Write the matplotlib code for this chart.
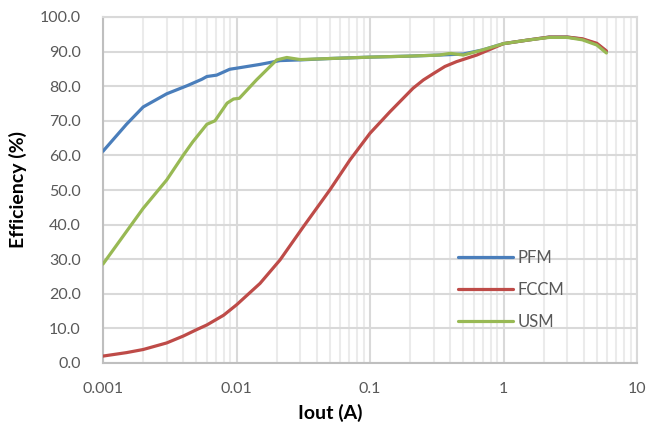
import matplotlib
matplotlib.use("Agg")
import matplotlib.pyplot as plt
from matplotlib.ticker import FixedLocator, NullFormatter

plt.rcParams['font.family'] = ['Lato', 'DejaVu Sans']

# 读取自图中的数据
iout_pfm = [0.001, 0.0015, 0.002, 0.003, 0.0043, 0.0055, 0.006, 0.0071, 0.0089, 0.01,
            0.015, 0.0212, 0.03, 0.05, 0.1, 0.2, 0.33, 0.5, 0.7, 1.0, 1.5, 2.2, 3.0, 3.9, 5.0, 5.9]
eff_pfm = [61.2, 69.0, 74.0, 77.8, 80.2, 82.0, 82.8, 83.2, 84.9, 85.2,
           86.3, 87.4, 87.6, 88.0, 88.4, 88.7, 89.0, 89.3, 90.5, 92.3, 93.3, 94.2, 94.2, 93.6, 92.2, 90.0]

iout_fccm = [0.001, 0.0015, 0.002, 0.003, 0.004, 0.005, 0.006, 0.008, 0.01, 0.015, 0.0212,
             0.0317, 0.05, 0.0708, 0.1, 0.141, 0.21, 0.251, 0.3, 0.364, 0.445, 0.63, 1.0,
             1.5, 2.2, 3.0, 3.9, 5.0, 5.9]
eff_fccm = [2.0, 3.0, 3.9, 5.8, 7.8, 9.6, 11.0, 13.8, 16.8, 23.0, 29.8,
            39.4, 50.0, 58.7, 66.4, 72.6, 79.4, 81.8, 83.7, 85.7, 87.1, 89.0, 92.3,
            93.3, 94.2, 94.2, 93.7, 92.4, 90.2]

iout_usm = [0.001, 0.002, 0.003, 0.004, 0.0047, 0.006, 0.0069, 0.0085, 0.0095,
            0.0105, 0.0141, 0.02, 0.0238, 0.03, 0.05, 0.1, 0.2, 0.33, 0.4, 0.5, 0.7,
            1.0, 1.5, 2.2, 3.0, 3.9, 5.0, 5.9]
eff_usm = [28.6, 44.7, 52.9, 60.1, 63.9, 69.0, 70.0, 75.1, 76.3,
           76.5, 81.8, 87.6, 88.3, 87.7, 88.0, 88.4, 88.7, 89.0, 89.5, 89.0, 90.5,
           92.3, 93.3, 94.1, 94.1, 93.4, 91.9, 89.6]

series_names = ['PFM', 'FCCM', 'USM']
series_colors = ['#4A7EBB', '#BE4B48', '#98B954']

x_ticks = [0.001, 0.01, 0.1, 1, 10]
x_tick_labels = ['0.001', '0.01', '0.1', '1', '10']
y_ticks = [0, 10, 20, 30, 40, 50, 60, 70, 80, 90, 100]

fig = plt.figure(figsize=(6.49, 4.29), dpi=100)
ax = fig.add_axes([103 / 649, 1 - 363 / 429, 534 / 649, 346 / 429])

for xs, ys, name, c in zip([iout_pfm, iout_fccm, iout_usm], [eff_pfm, eff_fccm, eff_usm],
                           series_names, series_colors):
    ax.plot(xs, ys, color=c, lw=2.3, label=name, solid_capstyle='round',
            solid_joinstyle='round', zorder=3)

ax.set_xscale('log')
ax.set_xlim(0.001, 10)
ax.set_ylim(0, 100)
ax.set_xticks(x_ticks)
ax.set_xticklabels(x_tick_labels)
ax.xaxis.set_minor_locator(FixedLocator([m * 10.0 ** e for e in range(-3, 1) for m in range(2, 10)]))
ax.xaxis.set_minor_formatter(NullFormatter())
ax.set_yticks(y_ticks)
ax.set_yticklabels(['%.1f' % v for v in y_ticks])

ax.grid(which='major', color='#D9D9D9', lw=1.5)
ax.grid(which='minor', axis='x', color='#EBEBEB', lw=1.5)
ax.set_axisbelow(True)
ax.tick_params(which='both', length=0, labelsize=11.5, labelcolor='#595959')
ax.tick_params(axis='x', pad=14)
ax.tick_params(axis='y', pad=16)

for side in ['top', 'right']:
    ax.spines[side].set_color('#D9D9D9')
    ax.spines[side].set_linewidth(1.5)
for side in ['left', 'bottom']:
    ax.spines[side].set_color('#BFBFBF')
    ax.spines[side].set_linewidth(1.5)

ax.set_xlabel('Iout (A)', fontsize=14, fontweight='bold')
ax.set_ylabel('Efficiency (%)', fontsize=14, fontweight='bold')
ax.xaxis.set_label_coords(0.425, -0.118)
ax.yaxis.set_label_coords(-0.142, 0.5)

ax.legend(loc='center left', bbox_to_anchor=(0.636, 0.211), frameon=False,
          fontsize=12, handlelength=3.3, labelspacing=0.95, handletextpad=0.3,
          labelcolor='#595959')

fig.savefig('out.png', dpi=100)
